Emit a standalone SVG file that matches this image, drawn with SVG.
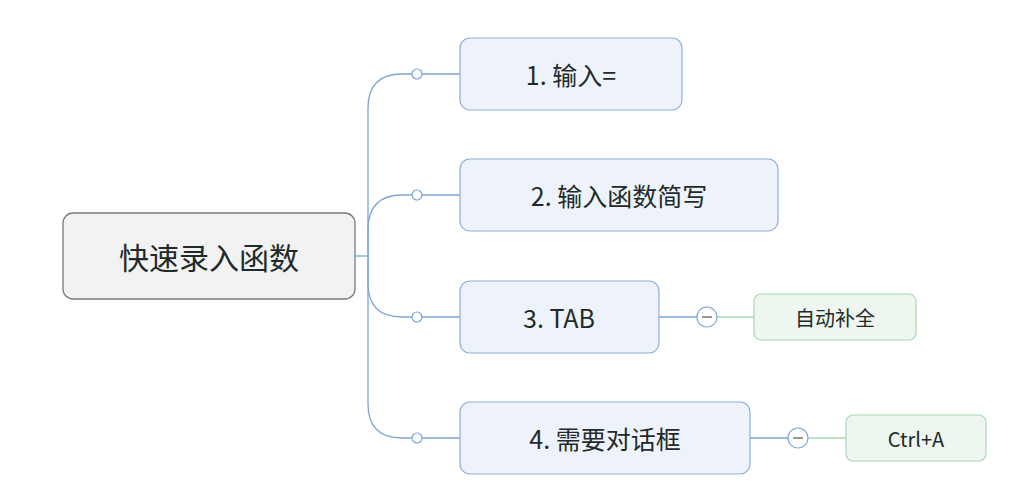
<svg xmlns="http://www.w3.org/2000/svg" width="1024" height="481" viewBox="0 0 1024 481">
<style>
.b{fill:#eef3fb;stroke:#8cafd9;stroke-width:1.2}
.g{fill:#edf6ef;stroke:#a8d8b4;stroke-width:1.2}
.t{font-family:"Noto Sans CJK SC","Noto Sans",sans-serif;fill:#1f2a2a;text-anchor:middle;dominant-baseline:central}
.l{fill:none;stroke:#7ea6d6;stroke-width:1.3}
.lg{fill:none;stroke:#a8d8b4;stroke-width:1.3}
.c{fill:#fff;stroke:#7ea6d6;stroke-width:1.2}
</style>
<rect width="1024" height="481" fill="#fff"/>
<g id="connectors">
<path class="l" d="M355 256H368"/>
<path class="l" d="M368 256V108Q368 74 402 74H460"/>
<path class="l" d="M368 256V230Q368 195 402 195H460"/>
<path class="l" d="M368 256V283Q368 317 402 317H460"/>
<path class="l" d="M368 256V404Q368 438 402 438H460"/>
<circle class="c" cx="417" cy="74" r="5"/>
<circle class="c" cx="417" cy="195" r="5"/>
<circle class="c" cx="417" cy="317" r="5"/>
<circle class="c" cx="417" cy="438" r="5"/>
<path class="l" d="M659 317H697"/>
<path class="lg" d="M717 317H754"/>
<circle class="c" cx="707" cy="317" r="10"/>
<path d="M702 317H712" stroke="#555" stroke-width="1.2"/>
<path class="l" d="M750 438H788"/>
<path class="lg" d="M808 438H846"/>
<circle class="c" cx="798" cy="438" r="10"/>
<path d="M793 438H803" stroke="#555" stroke-width="1.2"/>
</g>
<g id="root"><rect x="63" y="213" width="292" height="86" rx="10" fill="#f2f2f2" stroke="#7a7a7a" stroke-width="1.3"/><text class="t" x="209" y="256" font-size="30">快速录入函数</text></g>
<g id="n1"><rect class="b" x="460" y="38" width="222" height="72" rx="10"/><text class="t" x="571" y="74" font-size="25">1. 输入=</text></g>
<g id="n2"><rect class="b" x="460" y="159" width="318" height="72" rx="10"/><text class="t" x="619" y="195" font-size="25">2. 输入函数简写</text></g>
<g id="n3"><rect class="b" x="460" y="281" width="199" height="72" rx="10"/><text class="t" x="559" y="317" font-size="25">3. TAB</text></g>
<g id="n4"><rect class="b" x="460" y="402" width="290" height="72" rx="10"/><text class="t" x="605" y="438" font-size="25">4. 需要对话框</text></g>
<g id="n5"><rect class="g" x="754" y="294" width="162" height="46" rx="7"/><text class="t" x="835" y="317" font-size="20">自动补全</text></g>
<g id="n6"><rect class="g" x="846" y="415" width="140" height="46" rx="7"/><text class="t" x="916" y="438" font-size="20">Ctrl+A</text></g>
</svg>
